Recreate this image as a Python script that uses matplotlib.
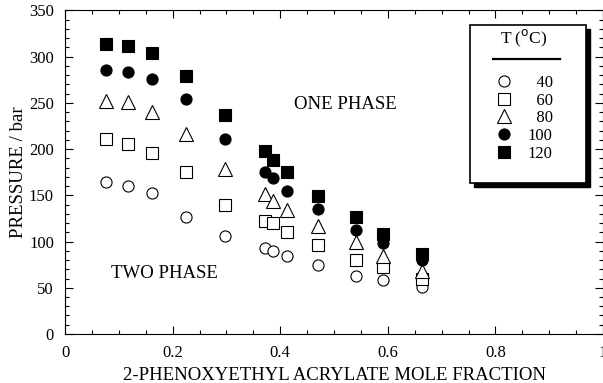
import matplotlib
matplotlib.use('Agg')
import matplotlib.pyplot as plt
from matplotlib.ticker import MultipleLocator
from matplotlib.lines import Line2D
from matplotlib.patches import Rectangle
from matplotlib.transforms import ScaledTranslation

plt.rcParams['font.family'] = ['Liberation Serif', 'DejaVu Serif']

# mole fraction of 2-phenoxyethyl acrylate
x_frac = [0.076, 0.118, 0.162, 0.224, 0.298, 0.371, 0.386, 0.412, 0.470, 0.541, 0.592, 0.664]

temps = ['40', '60', '80', '100', '120']
p_40 = [164, 160, 152, 127, 106, 93, 90, 84, 75, 63, 58, 51]
p_60 = [211, 206, 196, 175, 140, 122, 120, 110, 96, 80, 72, 59]
p_80 = [252, 251, 240, 216, 179, 151, 144, 134, 117, 99, 84, 68]
p_100 = [286, 283, 276, 254, 211, 175, 169, 155, 135, 113, 98, 80]
p_120 = [314, 312, 304, 279, 237, 198, 188, 175, 149, 127, 108, 86]

fig = plt.figure(figsize=(6.03, 3.83), dpi=100)
ax = fig.add_axes([0.1078, 0.128, 0.8922, 0.8447])

styles = [
    ('o', 'white'),
    ('s', 'white'),
    ('^', 'white'),
    ('o', 'black'),
    ('s', 'black'),
]
series = [p_40, p_60, p_80, p_100, p_120]
for (m, fc), p, t in zip(styles, series, temps):
    ax.plot(x_frac, p, linestyle='none', marker=m,
            markersize={'o': 8, 's': 8, '^': 9.5}[m],
            markerfacecolor=fc, markeredgecolor='black', markeredgewidth=0.8,
            label=t.rjust(3, '\u2007'))

ax.set_xlim(0, 1)
ax.set_ylim(0, 350)
ax.xaxis.set_major_locator(MultipleLocator(0.2))
ax.xaxis.set_minor_locator(MultipleLocator(0.05))
ax.yaxis.set_major_locator(MultipleLocator(50))
ax.yaxis.set_minor_locator(MultipleLocator(10))
ax.set_xticks([0, 0.2, 0.4, 0.6, 0.8, 1.0])
ax.set_xticklabels(['0', '0.2', '0.4', '0.6', '0.8', '1'])
ax.tick_params(which='both', direction='in', top=True, right=True, labelsize=12, width=0.8)
ax.tick_params(which='major', length=6, pad=8)
ax.tick_params(which='minor', length=3)
for s in ax.spines.values():
    s.set_linewidth(0.8)

ax.set_xlabel('2-PHENOXYETHYL ACRYLATE MOLE FRACTION', fontsize=13.5, labelpad=4)
ax.set_ylabel('PRESSURE / bar', fontsize=13.5, labelpad=1.5)

ax.text(0.522, 248, 'ONE PHASE', fontsize=13.5, ha='center', va='center')
ax.text(0.185, 65, 'TWO PHASE', fontsize=13.5, ha='center', va='center')

# legend box with black drop shadow
box = dict(xy=(0.753, 0.467), width=0.215, height=0.488)
shadow_tr = ax.transAxes + ScaledTranslation(3 / 72, -3 / 72, fig.dpi_scale_trans)
ax.add_patch(Rectangle(**box, transform=shadow_tr, facecolor='black',
                       edgecolor='black', zorder=5))
ax.add_patch(Rectangle(**box, transform=ax.transAxes, facecolor='white',
                       edgecolor='black', linewidth=1.2, zorder=6))

leg = ax.legend(title='T ($^{\\rm o}$C)', loc='upper center', bbox_to_anchor=(0.852, 0.982),
                fontsize=12, title_fontsize=12.5, frameon=False,
                handletextpad=0.8, labelspacing=0.10, borderpad=0.2, handlelength=1.2)
leg.set_zorder(7)
leg._legend_box.sep = 18.5

# underline below legend title
ax.add_line(Line2D([0.796, 0.920], [0.850, 0.850], transform=ax.transAxes,
                   color='black', linewidth=1.6, zorder=8))

fig.savefig('out.png', dpi=100)
